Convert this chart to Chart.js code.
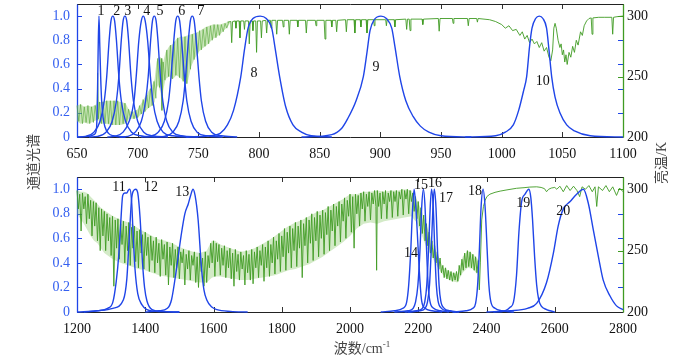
<!DOCTYPE html>
<html><head><meta charset="utf-8">
<script src="https://cdn.jsdelivr.net/npm/chart.js@4.4.0/dist/chart.umd.min.js"></script>
<style>
html,body{margin:0;padding:0;background:#fff;}
#wrap{position:relative;width:700px;height:355px;overflow:hidden;background:#fff;}
#c1{position:absolute;left:0;top:0;}
#c2{position:absolute;left:0;top:170px;}
.t{position:absolute;font-family:"Liberation Serif","Noto Sans CJK SC",serif;color:#444;font-size:14px;white-space:nowrap;line-height:1;}
.rot{transform:translate(-50%,-50%) rotate(-90deg);}
sup{font-size:9px;vertical-align:6px;}
</style></head>
<body><div id="wrap">
<canvas id="c1" width="700" height="170"></canvas>
<canvas id="c2" width="700" height="185"></canvas>
<div class="t rot" style="left:34px;top:162px;">通道光谱</div>
<div class="t rot" style="left:662px;top:163px;">亮温/K</div>
<div class="t" style="left:362px;top:348px;transform:translate(-50%,-50%);">波数/cm<sup>-1</sup></div>
</div>
<script>
// ---------- DATA (wavenumber cm-1, channel response) ----------
const ch1 = [[650,0],[660,0.005],[664,0.02],[666,0.06],[666.8,0.3],[667.4,0.7],[668.1,1.0],[668.8,0.75],[669.5,0.5],[670.3,0.3],[671.5,0.16],[673,0.085],[676,0.03],[680,0.01],[690,0]];
const ch2 = [[650,0],[657,0.005],[664,0.04],[669,0.13],[672.5,0.3],[674.5,0.5],[676.5,0.8],[678,0.96],[679.5,1],[681,0.96],[682.5,0.8],[684.5,0.5],[686.5,0.3],[690,0.13],[695,0.04],[702,0.01],[715,0]];
const ch3 = [[660,0],[667,0.005],[674,0.04],[679,0.13],[682.5,0.3],[684.5,0.5],[686.5,0.8],[688,0.96],[689.5,1],[691,0.96],[692.5,0.8],[694.5,0.5],[696.5,0.3],[700,0.13],[705,0.04],[712,0.01],[725,0]];
const ch4 = [[675,0],[681,0.005],[688,0.04],[693,0.13],[697,0.3],[698.8,0.5],[701,0.8],[703,0.96],[704.6,1],[706.2,0.96],[708.2,0.8],[710.5,0.5],[712.5,0.3],[716,0.13],[721,0.04],[729,0.01],[742,0]];
const ch5 = [[685,0],[692,0.005],[698,0.04],[703,0.13],[706.5,0.3],[708.7,0.5],[710.7,0.8],[712.2,0.96],[713.7,1],[715.2,0.96],[716.7,0.8],[718.7,0.5],[720.7,0.3],[724,0.13],[729,0.04],[736,0.01],[750,0]];
const ch6 = [[703,0],[710,0.005],[717,0.04],[722,0.13],[725.5,0.3],[727.5,0.5],[729.8,0.8],[731.4,0.96],[733,1],[734.6,0.96],[736.2,0.8],[738.5,0.5],[740.5,0.3],[744,0.13],[749,0.04],[757,0.01],[770,0]];
const ch7 = [[715,0],[722,0.005],[729,0.04],[734,0.13],[737.5,0.3],[739.5,0.5],[741.8,0.8],[743.4,0.96],[745,1],[746.6,0.96],[748.2,0.8],[750.5,0.5],[752.5,0.3],[756,0.13],[761,0.04],[769,0.01],[782,0]];
const ch8 = [[740,0],[760,0.01],[768,0.03],[774,0.1],[779,0.22],[785,0.5],[788,0.72],[791,0.9],[795,0.98],[801,1],[806,0.98],[810.5,0.9],[813.5,0.72],[817,0.5],[822,0.25],[828,0.1],[835,0.04],[843,0.01],[860,0]];
const ch9 = [[835,0],[860,0.02],[868,0.07],[873,0.15],[880,0.3],[886,0.5],[889,0.7],[891.5,0.88],[895,0.97],[900.5,1],[905,0.98],[909.4,0.9],[912,0.75],[916,0.5],[921,0.3],[927,0.17],[933,0.09],[940,0.04],[950,0.01],[975,0]];
const ch10 = [[970,0],[995,0.01],[1003,0.04],[1009.6,0.1],[1014,0.22],[1018,0.38],[1020.6,0.5],[1023,0.75],[1025,0.9],[1028,0.98],[1031,1],[1034,0.98],[1037,0.9],[1039,0.72],[1041.2,0.5],[1044,0.33],[1048,0.2],[1053.6,0.1],[1060,0.05],[1073,0.01],[1100,0]];

const ch11 = [[1200,0],[1260,0.01],[1290,0.03],[1305,0.08],[1315,0.25],[1322,0.45],[1328,0.72],[1334,0.95],[1340,0.97],[1346,0.97],[1350,0.99],[1355,1.0],[1360,0.9],[1365,0.6],[1370,0.35],[1378,0.15],[1390,0.06],[1405,0.02],[1430,0.005],[1500,0]];
const ch12 = [[1220,0],[1260,0.01],[1305,0.03],[1336,0.1],[1346,0.27],[1353,0.6],[1360,0.92],[1366,0.99],[1372,1.0],[1378,0.97],[1385,0.76],[1392,0.4],[1398,0.2],[1405,0.09],[1420,0.02],[1450,0.005],[1500,0]];
const ch13 = [[1400,0],[1440,0.01],[1465,0.03],[1477,0.1],[1492,0.36],[1505,0.62],[1516,0.8],[1526,0.88],[1533,0.95],[1540,1.0],[1546,0.95],[1555,0.75],[1565,0.35],[1572,0.18],[1580,0.1],[1595,0.04],[1610,0.02],[1650,0.005],[1700,0]];
const ch14 = [[2090,0],[2130,0.01],[2155,0.03],[2166,0.08],[2172,0.22],[2178,0.5],[2183,0.82],[2188,1.0],[2193,0.85],[2200,0.5],[2205,0.25],[2210,0.09],[2220,0.03],[2240,0.01],[2270,0]];
const ch15 = [[2130,0],[2170,0.01],[2185,0.03],[2192,0.08],[2199,0.22],[2205,0.5],[2210,0.85],[2215,1.0],[2220,0.85],[2224.5,0.5],[2229,0.22],[2234,0.09],[2245,0.03],[2265,0.01],[2290,0]];
const ch16 = [[2160,0],[2195,0.01],[2212,0.03],[2219,0.08],[2225,0.22],[2230,0.5],[2235,0.85],[2239,1.0],[2244,0.85],[2248.5,0.5],[2253,0.22],[2258,0.09],[2268,0.03],[2285,0.01],[2310,0]];
const ch17 = [[2170,0],[2205,0.01],[2220,0.03],[2227,0.08],[2233,0.22],[2238,0.5],[2243,0.85],[2247,1.0],[2252,0.85],[2256.5,0.5],[2261,0.22],[2266,0.09],[2276,0.03],[2293,0.01],[2320,0]];
const ch18 = [[2300,0],[2340,0.01],[2360,0.03],[2368,0.07],[2374,0.22],[2379,0.5],[2384,0.85],[2390,1.0],[2396,0.85],[2402,0.5],[2407,0.22],[2413,0.08],[2425,0.03],[2445,0.01],[2480,0]];
const ch19 = [[2420,0],[2455,0.01],[2470,0.04],[2479,0.08],[2488,0.3],[2495,0.65],[2503,0.9],[2513,0.96],[2524,1.0],[2530,0.93],[2535,0.75],[2541,0.45],[2547,0.22],[2553,0.1],[2560,0.05],[2576,0.02],[2600,0]];
const ch20 = [[2400,0],[2469,0.01],[2520,0.03],[2547,0.07],[2576,0.24],[2596,0.48],[2610,0.7],[2625,0.84],[2645,0.9],[2664,0.96],[2684,1.0],[2698,0.89],[2713,0.67],[2728,0.45],[2742,0.26],[2762,0.13],[2781,0.05],[2800,0.02]];

// brightness temperature (K): dense band = [wn, upper, lower]
const tbTopBand = [[650,226,213],[653,227,211],[656,225,212],[659,226,211],[662,225,212],[664,226,213],[666,227,214],[667,253,216],[668,229,213],[670,229,211],[674,230,211],[678,230,210],[682,230,210],[686,229,210],[690,228,211],[692,224,214],[694,221,215],[697,221,215],[700,223,216],[703,228,219],[706,233,221],[709,238,224],[712,243,226],[714,248,229],[715.5,262,240],[717,266,243],[719,266,236],[720,264,222],[721,262,238],[723,270,248],[726,275,250],[729,277,248],[732,281,251],[735,283,249],[738,283,246],[741,284,244],[744,285,258],[747,286,265],[750,287,270],[753,289,273],[756,291,275],[759,292,278],[762,293,281],[765,293,283],[768,293,285],[771,294,288],[774,295,291],[776,295,294]];
const tbTopZig = [[650,226],[651.5,213],[653,227],[654.5,211],[656,225],[657.5,212],[659,226],[660.5,211],[662,225],[663.5,212],[665,226],[666.5,214],[667,253],[667.6,215],[668.5,229],[670,211],[671.5,229],[673,211],[674.5,230],[676,211],[677.5,230],[679,210],[680.5,230],[682,210],[683.5,230],[685,210],[686.5,229],[688,211],[689.5,228],[691,212],[692.5,223],[694,215],[695.5,221],[697,215],[698.5,222],[700,216],[701.5,226],[703,219],[704.5,231],[706,221],[707.5,235],[709,224],[710.5,240],[712,226],[713.5,246],[715,232],[716.5,265],[718,241],[719.5,265],[720,222],[721,262],[722.5,247],[724,272],[725.5,250],[727,276],[728.5,248],[730,279],[731.5,251],[733,282],[734.5,249],[736,283],[737.5,246],[739,283],[740.5,244],[742,284],[743.5,256],[745,285],[746.5,264],[748,286],[749.5,269],[751,288],[752.5,272],[754,289],[755.5,275],[757,291],[758.5,277],[760,292],[761.5,280],[763,293],[764.5,282],[766,293],[767.5,284],[769,293],[770.5,287],[772,294],[773.5,290],[775,295]];
const tbTopLine = [[774,295],[776.8,295.5],[777.5,278],[778.2,295.5],[780.4,296],[781,290],[781.6,296],[783.6,296],[784.3,282],[785,296],[787.4,296],[788,289],[788.6,296],[791.3,296],[792,277],[792.7,296],[794.4,296],[795,288],[795.6,296],[797.3,296],[798,270],[798.7,296],[801.3,296],[802,282],[802.7,296],[805.6,296.5],[806.3,286],[807,296.5],[809.4,296.5],[810,290],[810.6,296.5],[813.9,296.5],[814.6,285],[815.3,296.5],[819.4,296.5],[820,291],[820.6,296.5],[824.3,296.5],[825,285],[825.7,296.5],[831.4,296.5],[832,291],[832.6,296.5],[838.3,296.5],[839,286],[839.7,296.5],[846.4,296.5],[847,292],[847.6,296.5],[853.7,296.5],[854.4,281],[855.1,296.5],[859.4,296.5],[860,291],[860.6,296.5],[863.3,296.5],[864,287],[864.7,296.5],[871.3,297],[872,287],[872.7,297],[878.3,297],[879,286],[879.7,297],[883.4,297],[884,291],[884.6,297],[888.3,297],[889,286],[889.7,297],[894.4,297],[895,292],[895.6,297],[904.4,297],[905,292],[905.6,297],[911.4,297],[912,291],[912.6,297],[921,297.5],[921.7,289],[922.4,297.5],[923.8,297.5],[924.5,288],[925.2,297.5],[934.4,297.5],[935,293],[935.6,297.5],[947.8,298],[948.5,287.5],[949.2,298],[959.4,298],[960,294],[960.6,298],[971.8,298],[972.5,292],[973.2,298],[979.4,298],[980,295],[980.6,298],[990,297],[995,295.5],[1000,293],[1003,290],[1006,292],[1009,288],[1012,289],[1015,284],[1017,287],[1019,281],[1021,284],[1023,278],[1025,281],[1027,277],[1029,279],[1031,274],[1033,278],[1035,271],[1037,274],[1039,266],[1040.5,263],[1042,272],[1043,290],[1044,294],[1045,290],[1046.5,280],[1048,274],[1049,277],[1050,268],[1051,272],[1052,262],[1053,268],[1054,260],[1055.5,270],[1057,266],[1058.5,275],[1060,270],[1061.5,280],[1063,276],[1065,287],[1066.5,284],[1068,292],[1070,296],[1072,298],[1073.8,298.5],[1074.5,285],[1075.2,298.5],[1080,299],[1085,299],[1090.8,299],[1091.5,285],[1092.2,299],[1095,299.5],[1100,300]];

const tbBotBand = [[1200,299,280],[1210,298,276],[1220,298,272],[1230,297,267],[1240,294,262],[1250,291,258],[1260,288,256],[1270,285,252],[1280,283,248],[1290,281,246],[1300,279,244],[1320,276,241],[1340,274,239],[1360,272,237],[1380,268,235],[1400,265,234],[1420,262,232],[1440,259,230],[1460,258,229],[1480,256,228],[1500,253,227],[1520,251,226],[1540,249,225],[1560,248,224],[1580,250,224],[1595,258,228],[1605,258,229],[1620,255,229],[1640,253,228],[1660,251,227],[1680,249,226],[1700,250,226],[1720,252,227],[1740,255,228],[1760,258,229],[1780,262,230],[1800,266,232],[1820,270,234],[1840,273,235],[1860,275,237],[1880,278,239],[1900,281,242],[1920,283,245],[1940,286,249],[1960,289,253],[1980,292,257],[2000,296,262],[2020,296,268],[2040,298,272],[2060,298,273],[2080,299,272],[2100,298,274],[2120,299,275],[2140,299,276],[2160,300,277],[2180,299,278],[2195,292,273],[2210,283,263],[2225,270,252],[2240,258,245],[2255,248,237],[2270,237,231],[2285,234,227],[2300,232,225],[2315,231,224],[2330,245,232],[2345,250,236],[2360,247,235],[2375,243,230],[2379,240,222]];
const tbBotZig = [[1200,299],[1204,284],[1208,296],[1212,266],[1216,297],[1220,284],[1224,294],[1228,272],[1232,296],[1236,276],[1240,291],[1244,262],[1248,290],[1252,270],[1256,289],[1260,258],[1264,285],[1268,250],[1272,284],[1276,262],[1280,282],[1284,250],[1288,280],[1292,258],[1296,277],[1300,246],[1304,278],[1308,221],[1312,275],[1316,252],[1320,276],[1324,243],[1328,272],[1332,255],[1336,274],[1340,240],[1344,270],[1348,250],[1352,273],[1356,238],[1360,269],[1364,252],[1368,270],[1372,241],[1376,266],[1380,236],[1384,267],[1388,248],[1392,263],[1396,235],[1400,265],[1404,246],[1408,261],[1412,233],[1416,262],[1420,242],[1424,258],[1428,232],[1432,261],[1436,240],[1440,256],[1444,229],[1448,259],[1452,243],[1456,255],[1460,230],[1464,257],[1468,222],[1472,253],[1476,238],[1480,256],[1484,228],[1488,251],[1492,236],[1496,253],[1500,227],[1504,249],[1508,240],[1512,251],[1516,222],[1520,247],[1524,235],[1528,250],[1532,226],[1536,246],[1540,238],[1544,249],[1548,224],[1552,245],[1556,220],[1560,248],[1564,233],[1568,244],[1572,221],[1576,249],[1580,224],[1584,246],[1588,236],[1592,256],[1596,240],[1600,258],[1604,229],[1608,256],[1612,241],[1616,255],[1620,230],[1624,252],[1628,238],[1632,254],[1636,228],[1640,250],[1644,236],[1648,252],[1652,227],[1656,248],[1660,221],[1664,251],[1668,233],[1672,247],[1676,226],[1680,249],[1684,235],[1688,246],[1692,222],[1696,250],[1700,232],[1704,247],[1708,226],[1712,251],[1716,223],[1720,249],[1724,236],[1728,253],[1732,228],[1736,250],[1740,238],[1744,255],[1748,225],[1752,253],[1756,236],[1760,258],[1764,229],[1768,255],[1772,240],[1776,261],[1780,231],[1784,258],[1788,243],[1792,264],[1796,233],[1800,262],[1804,245],[1808,268],[1812,234],[1816,265],[1820,248],[1824,270],[1828,236],[1832,268],[1836,250],[1840,273],[1844,237],[1848,270],[1852,252],[1856,275],[1860,228],[1864,272],[1868,254],[1872,277],[1876,240],[1880,275],[1884,256],[1888,280],[1892,242],[1896,277],[1900,258],[1904,282],[1908,245],[1912,279],[1916,260],[1920,283],[1924,247],[1928,281],[1932,263],[1936,286],[1940,250],[1944,283],[1948,266],[1952,288],[1956,254],[1960,286],[1964,270],[1968,290],[1972,257],[1976,288],[1980,274],[1984,293],[1988,260],[1992,291],[1996,278],[2000,296],[2004,265],[2008,294],[2012,252],[2016,296],[2020,280],[2024,295],[2028,270],[2032,297],[2036,284],[2040,298],[2044,274],[2048,296],[2052,286],[2056,298],[2060,275],[2064,297],[2068,288],[2072,299],[2076,286],[2078,234],[2080,299],[2084,286],[2088,297],[2092,276],[2096,298],[2100,288],[2104,299],[2108,276],[2112,297],[2116,290],[2120,299],[2124,277],[2128,298],[2132,290],[2136,299],[2140,278],[2144,298],[2148,292],[2152,300],[2156,279],[2160,299],[2164,292],[2168,300],[2172,280],[2176,299],[2180,290],[2184,297],[2188,282],[2192,294],[2196,276],[2200,290],[2204,270],[2208,285],[2212,264],[2216,279],[2220,258],[2224,272],[2228,254],[2232,265],[2236,248],[2240,258],[2244,244],[2248,254],[2252,240],[2256,249],[2260,235],[2264,244],[2268,232],[2272,238],[2276,228],[2280,236],[2284,227],[2288,234],[2292,226],[2296,233],[2300,225],[2304,232],[2308,226],[2312,233],[2316,225],[2320,238],[2324,230],[2328,243],[2332,234],[2336,248],[2340,236],[2344,250],[2348,237],[2352,249],[2356,236],[2360,247],[2364,234],[2368,245],[2372,232],[2376,242],[2379,218]];
const tbBotLine = [[2379,218],[2382,240],[2386,275],[2391,286],[2396,291],[2401,294],[2410,296],[2425,297.5],[2440,298.5],[2460,299.5],[2488,300.8],[2510,301.3],[2527,301.8],[2547,302],[2560,301.5],[2570,300.5],[2576,298],[2582,300],[2590,301],[2600,301.5],[2606,300],[2615,302.5],[2625,298],[2635,303],[2645,299],[2655,302.5],[2665,299],[2673,294],[2680,302],[2690,300],[2700,303],[2710,298],[2718,302],[2723,286],[2728,302],[2740,299],[2750,303],[2760,298],[2770,302],[2781,295],[2790,301],[2800,298]];

// axis ticks
const xTicksTop = [650,700,750,800,850,900,950,1000,1050,1100];
const xTicksBot = [1200,1400,1600,1800,2000,2200,2400,2600,2800];
const respTicks = [0,0.2,0.4,0.6,0.8,1.0];
const tbTicks = [200,250,300];

// channel number labels
const topNames = ['1','2','3','4','5','6','7','8','9','10'];
const topLabWn = [669.8,682.7,691.8,707.4,718.4,736.3,752.2,795.9,896.4,1033.8];
const topLabR = [1.04,1.04,1.04,1.04,1.04,1.04,1.04,0.53,0.58,0.464];
const botNames = ['11','12','13','14','15','16','17','18','19','20'];
const botLabWn = [1323,1416.8,1508.6,2178.8,2208,2249,2281.3,2366.3,2507.9,2625.1];
const botLabR = [1.014,1.014,0.973,0.482,1.033,1.05,0.924,0.986,0.883,0.823];

// ---------- STYLE ----------
const BLUE = '#1f45e8';
const BLUE_TXT = '#3560f0';
const GREEN = '#3f9b22';
const ZIG_TOP = 'rgba(70,160,40,0.75)';
const FILL_TOP = 'rgba(140,200,105,0.45)';
const FILL_BOT = 'rgba(130,195,95,0.35)';
const FONT = {family:'"Liberation Serif", serif', size:14};

function pts(a){ return a.map(p=>({x:p[0], y:p[1]})); }

const framePlugin = {
  id:'frame',
  beforeDatasetsDraw(chart){
    const {ctx, chartArea:a, scales} = chart;
    const L=5;
    ctx.save();
    ctx.lineWidth=1;
    const seg=(x1,y1,x2,y2,c)=>{ctx.strokeStyle=c;ctx.beginPath();ctx.moveTo(x1,y1);ctx.lineTo(x2,y2);ctx.stroke();};
    scales.x.ticks.forEach(t=>{
      const px=Math.round(scales.x.getPixelForValue(t.value))+0.5;
      seg(px,a.bottom,px,a.bottom-L,'#333');
      seg(px,a.top,px,a.top+L,'#333');
    });
    scales.y.ticks.forEach(t=>{
      const py=Math.round(scales.y.getPixelForValue(t.value))+0.5;
      seg(a.left,py,a.left+L,py,BLUE);
      seg(a.right,py,a.right-L,py,BLUE);
    });
    scales.y2.ticks.forEach(t=>{
      const py=Math.round(scales.y2.getPixelForValue(t.value))+0.5;
      seg(a.right,py,a.right-L,py,GREEN);
    });
    const l=Math.round(a.left)+0.5, r=Math.round(a.right)+0.5, tp=Math.round(a.top)+0.5, b=Math.round(a.bottom)+0.5;
    seg(l,tp,r,tp,'#222');
    seg(l,b,r,b,'#222');
    ctx.lineWidth=1.3;
    seg(l,tp,l,b,BLUE);
    seg(r,tp,r,b,GREEN);
    ctx.restore();
  }
};

const labelPlugin = {
  id:'chanLabels',
  afterDatasetsDraw(chart, args, opts){
    const {ctx, scales} = chart;
    ctx.save();
    ctx.font = '14px "Liberation Serif", serif';
    ctx.fillStyle = '#111';
    ctx.textAlign='center';
    ctx.textBaseline='middle';
    opts.names.forEach((n,i)=>{
      ctx.fillText(n, scales.x.getPixelForValue(opts.wn[i]), scales.y.getPixelForValue(opts.r[i]));
    });
    ctx.restore();
  }
};

function makeChart(id, cfg){
  const blueSets = cfg.channels.map(c=>({
    data:pts(c), yAxisID:'y', borderColor:BLUE, borderWidth:1.4, pointRadius:0,
    cubicInterpolationMode:'monotone', fill:false, order:0, clip:4
  }));
  const none='rgba(0,0,0,0)';
  const greenSets = [];
  greenSets.push({data:cfg.band.map(p=>({x:p[0],y:p[1]})), yAxisID:'y2', borderColor:none, borderWidth:0, pointRadius:0, tension:0, fill:false, order:2, clip:4});
  greenSets.push({data:cfg.band.map(p=>({x:p[0],y:p[2]})), yAxisID:'y2', borderColor:none, borderWidth:0, pointRadius:0, tension:0, fill:'-1', backgroundColor:cfg.fill, order:2, clip:4});
  greenSets.push({data:pts(cfg.zig), yAxisID:'y2', borderColor:cfg.zigColor, borderWidth:cfg.zigWidth, pointRadius:0, tension:0, fill:false, order:1, clip:4});
  greenSets.push({data:pts(cfg.line), yAxisID:'y2', borderColor:GREEN, borderWidth:0.9, pointRadius:0, tension:0, fill:false, order:1, clip:4});

  const noPadV = s=>{s.width=77; s.paddingTop=0; s.paddingBottom=0;};
  return new Chart(document.getElementById(id), {
    type:'line',
    data:{datasets:[...blueSets, ...greenSets]},
    options:{
      responsive:false, animation:false, devicePixelRatio:1, events:[],
      layout:{padding:{left:0,right:0,top:cfg.padTop,bottom:0}},
      plugins:{legend:{display:false}, tooltip:{enabled:false},
        chanLabels:{names:cfg.names, wn:cfg.labWn, r:cfg.labR}},
      scales:{
        x:{type:'linear', min:cfg.xmin, max:cfg.xmax,
          afterBuildTicks:s=>{s.ticks=cfg.xticks.map(v=>({value:v}));},
          afterFit:s=>{s.height=cfg.xh; s.paddingLeft=0; s.paddingRight=0;},
          grid:{display:false, drawTicks:false}, border:{display:false},
          ticks:{font:FONT, color:'#111', padding:9, maxRotation:0, autoSkip:false, callback:v=>String(v)}},
        y:{type:'linear', position:'left', min:0, max:1.1,
          afterBuildTicks:s=>{s.ticks=respTicks.map(v=>({value:v}));},
          afterFit:noPadV,
          grid:{display:false, drawTicks:false}, border:{display:false},
          ticks:{font:FONT, color:BLUE_TXT, padding:7, callback:v=>v===0?'0':Number(v).toFixed(1)}},
        y2:{type:'linear', position:'right', min:200, max:310,
          afterBuildTicks:s=>{s.ticks=tbTicks.map(v=>({value:v}));},
          afterFit:noPadV,
          grid:{display:false, drawTicks:false}, border:{display:false},
          ticks:{font:FONT, color:'#111', padding:4, callback:v=>String(v)}}
      }
    },
    plugins:[framePlugin, labelPlugin]
  });
}

makeChart('c1', {channels:[ch1,ch2,ch3,ch4,ch5,ch6,ch7,ch8,ch9,ch10], band:tbTopBand, zig:tbTopZig, line:tbTopLine,
  fill:FILL_TOP, zigColor:ZIG_TOP, zigWidth:0.7,
  xmin:650, xmax:1100, xticks:xTicksTop, padTop:4, xh:33, names:topNames, labWn:topLabWn, labR:topLabR});
makeChart('c2', {channels:[ch11,ch12,ch13,ch14,ch15,ch16,ch17,ch18,ch19,ch20], band:tbBotBand, zig:tbBotZig, line:tbBotLine,
  fill:FILL_BOT, zigColor:GREEN, zigWidth:0.9,
  xmin:1200, xmax:2800, xticks:xTicksBot, padTop:7, xh:43, names:botNames, labWn:botLabWn, labR:botLabR});
</script>
</body></html>
